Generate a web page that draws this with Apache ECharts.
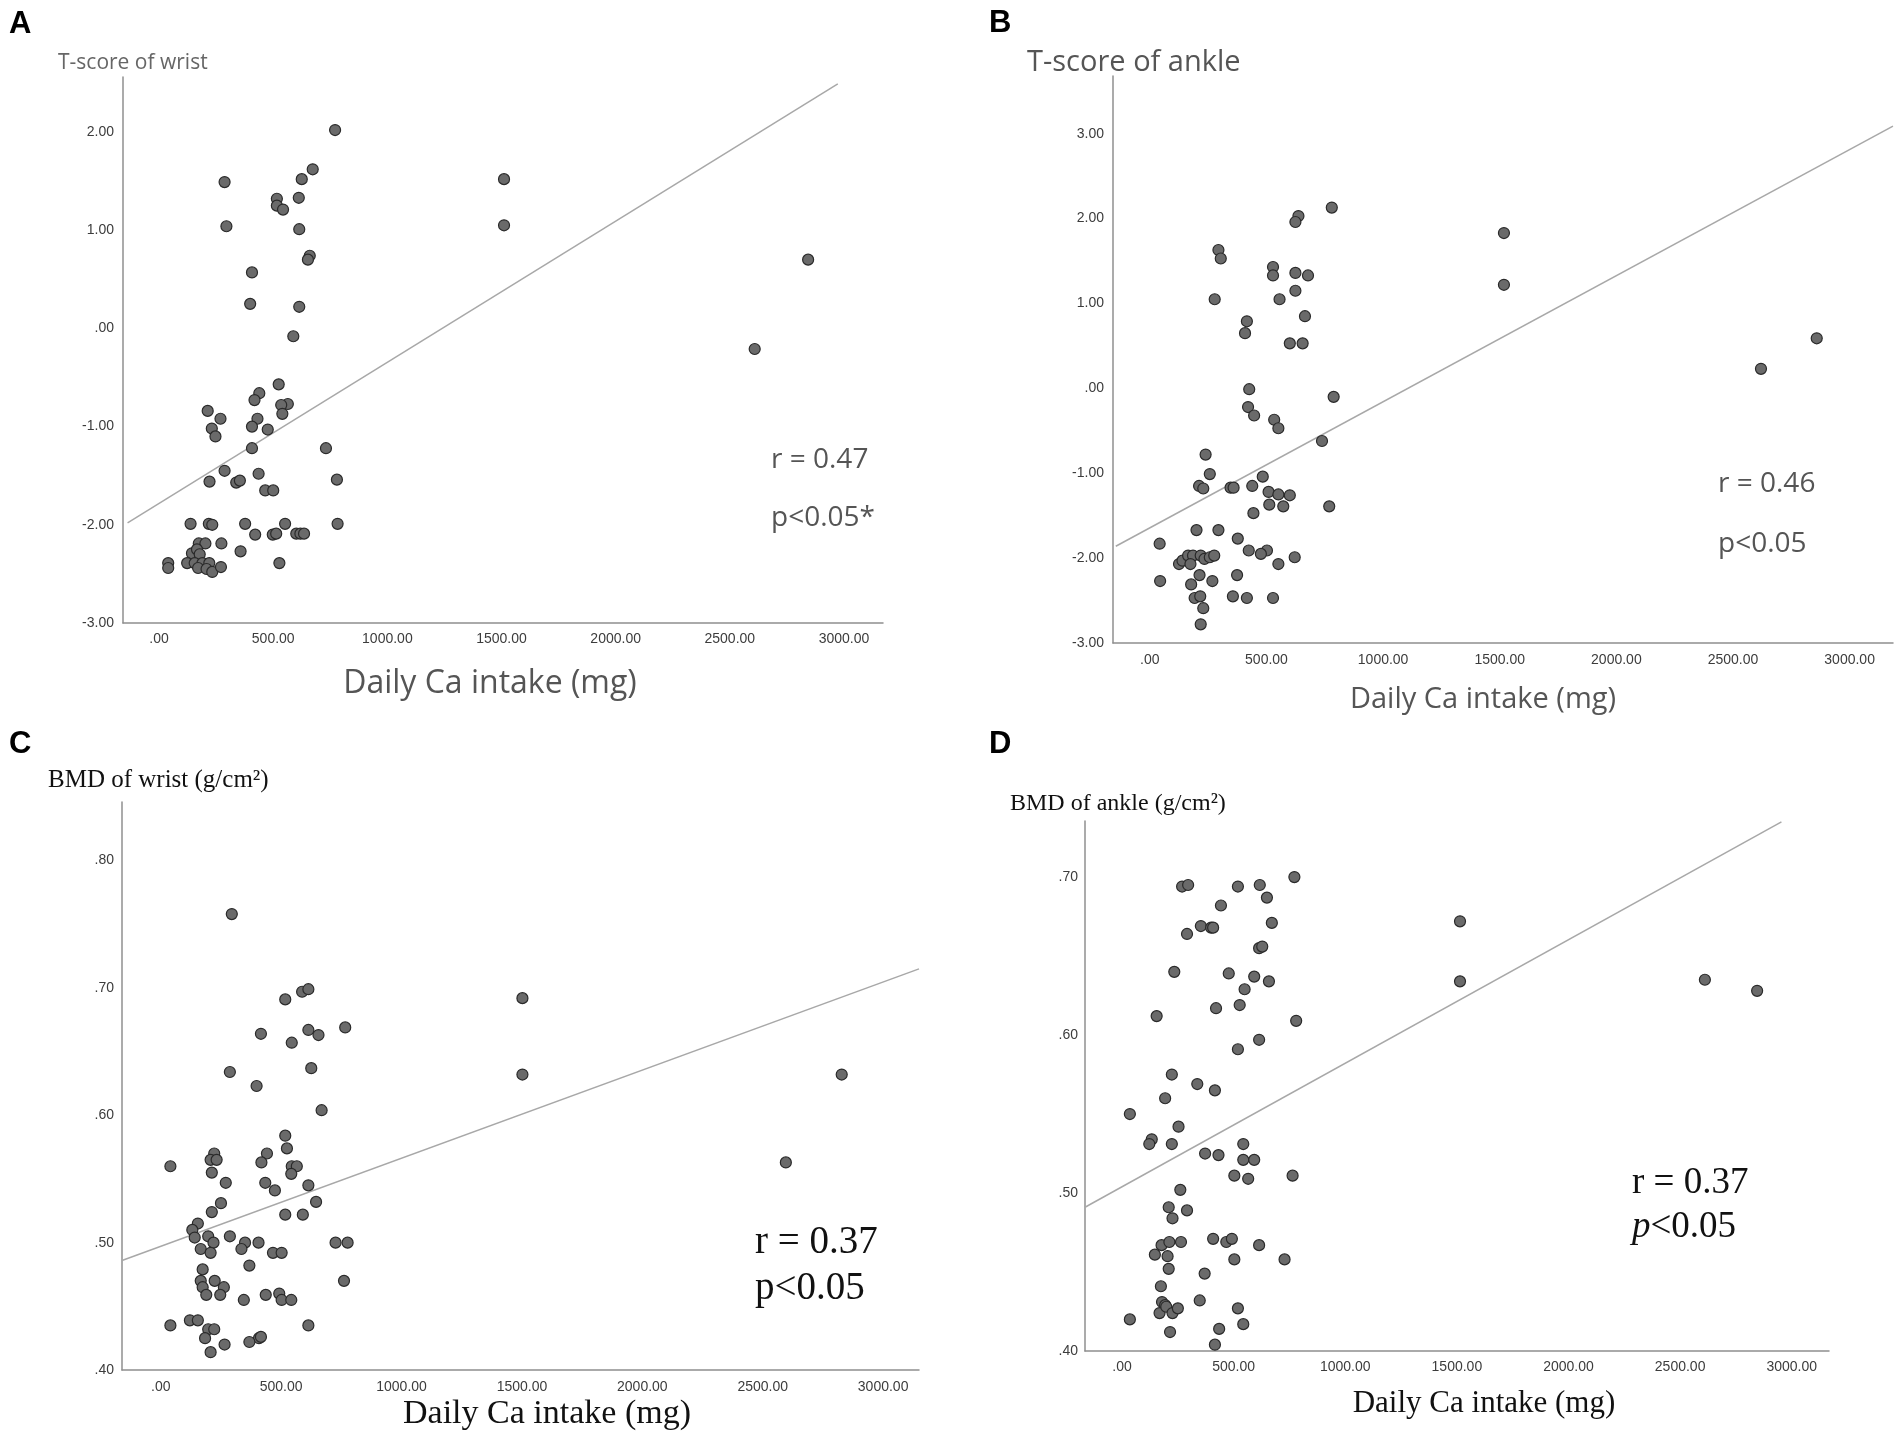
<!DOCTYPE html>
<html>
<head>
<meta charset="utf-8">
<title>Daily Ca intake vs T-score and BMD</title>
<script src="https://cdn.jsdelivr.net/npm/echarts@6/dist/echarts.min.js"></script>
<style>
  html, body { margin: 0; padding: 0; background: #fff; }
  #chart { width: 1902px; height: 1441px; }
</style>
</head>
<body>
<div id="chart"></div>
<script>
var xTicks = [0, 500, 1000, 1500, 2000, 2500, 3000];
var yTicksA = [-3, -2, -1, 0, 1, 2];
var yTicksB = [-3, -2, -1, 0, 1, 2, 3];
var yTicksC = [0.4, 0.5, 0.6, 0.7, 0.8];
var yTicksD = [0.4, 0.5, 0.6, 0.7];

// [daily Ca intake (mg), value]
var wristTscore = [
  [771, 2.02], [673, 1.62], [625, 1.52], [287, 1.49], [612, 1.33], [516, 1.32], [516, 1.25], [543, 1.21],
  [295, 1.04], [614, 1.01], [660, 0.74], [652, 0.70], [407, 0.57], [399, 0.25], [614, 0.22], [588, -0.08],
  [1511, 1.52], [1511, 1.05], [2843, 0.70], [2609, -0.21],
  [524, -0.57], [439, -0.66], [418, -0.73], [564, -0.77], [535, -0.78], [540, -0.87], [213, -0.84], [269, -0.92],
  [431, -0.92], [231, -1.02], [407, -1.00], [476, -1.03], [247, -1.10], [731, -1.22], [407, -1.22], [287, -1.45],
  [436, -1.48], [221, -1.56], [338, -1.57], [354, -1.55], [779, -1.54], [465, -1.65], [500, -1.65],
  [138, -1.99], [218, -1.99], [233, -2.00], [377, -1.99], [552, -1.99], [782, -1.99], [421, -2.10], [498, -2.10],
  [513, -2.09], [601, -2.09], [619, -2.09], [635, -2.09], [174, -2.19], [203, -2.19], [273, -2.19], [357, -2.27],
  [527, -2.39], [40, -2.39], [40, -2.44], [144, -2.29], [166, -2.25], [178, -2.30], [123, -2.39], [156, -2.39],
  [190, -2.39], [220, -2.39], [171, -2.44], [208, -2.45], [233, -2.48], [271, -2.43]
];
var ankleTscore = [
  [780, 2.13], [637, 2.03], [624, 1.96], [1518, 1.83], [1518, 1.22], [294, 1.63], [304, 1.53], [528, 1.43],
  [528, 1.33], [624, 1.36], [678, 1.33], [624, 1.15], [556, 1.05], [278, 1.05], [665, 0.85], [416, 0.79],
  [408, 0.65], [600, 0.53], [655, 0.53], [2859, 0.59], [2620, 0.23], [426, -0.01], [788, -0.10], [421, -0.22],
  [447, -0.32], [533, -0.37], [551, -0.47], [738, -0.62], [239, -0.78], [257, -1.01], [484, -1.04], [211, -1.15],
  [229, -1.18], [346, -1.17], [359, -1.17], [439, -1.15], [509, -1.22], [551, -1.25], [600, -1.26], [512, -1.37],
  [572, -1.39], [769, -1.39], [444, -1.47], [200, -1.67], [294, -1.67], [42, -1.83], [377, -1.77], [424, -1.91],
  [502, -1.91], [476, -1.95], [621, -1.99], [551, -2.07], [125, -2.07], [140, -2.03], [164, -1.97], [185, -1.97],
  [218, -1.97], [234, -2.01], [257, -1.99], [276, -1.97], [174, -2.07], [213, -2.20], [374, -2.20], [268, -2.27],
  [44, -2.27], [177, -2.31], [192, -2.47], [216, -2.45], [356, -2.45], [416, -2.47], [528, -2.47], [229, -2.59],
  [218, -2.78]
];
var wristBmd = [
  [295, 0.758], [517, 0.691], [587, 0.697], [613, 0.699], [1502, 0.692], [1502, 0.632], [2828, 0.632], [2596, 0.563],
  [766, 0.669], [416, 0.664], [613, 0.667], [655, 0.663], [544, 0.657], [625, 0.637], [287, 0.634], [398, 0.623],
  [668, 0.604], [517, 0.584], [524, 0.574], [222, 0.570], [207, 0.565], [232, 0.565], [441, 0.570], [418, 0.563],
  [544, 0.560], [565, 0.560], [542, 0.554], [212, 0.555], [40, 0.560], [270, 0.547], [434, 0.547], [613, 0.545],
  [474, 0.541], [250, 0.531], [645, 0.532], [212, 0.524], [517, 0.522], [590, 0.522], [154, 0.515], [131, 0.510],
  [141, 0.504], [197, 0.505], [287, 0.505], [219, 0.500], [350, 0.500], [406, 0.500], [726, 0.500], [776, 0.500],
  [166, 0.495], [207, 0.492], [335, 0.495], [466, 0.492], [502, 0.492], [368, 0.482], [174, 0.479], [166, 0.470],
  [174, 0.465], [224, 0.470], [262, 0.465], [189, 0.459], [247, 0.459], [761, 0.470], [436, 0.459], [492, 0.460],
  [502, 0.455], [542, 0.455], [345, 0.455], [40, 0.435], [121, 0.439], [154, 0.439], [197, 0.432], [222, 0.432],
  [613, 0.435], [184, 0.425], [408, 0.425], [416, 0.426], [368, 0.422], [265, 0.420], [207, 0.414]
];
var ankleBmd = [
  [772, 0.700], [269, 0.694], [296, 0.695], [519, 0.694], [617, 0.695], [649, 0.687], [443, 0.682], [1514, 0.672],
  [671, 0.671], [353, 0.669], [399, 0.668], [408, 0.668], [291, 0.664], [614, 0.655], [628, 0.656], [234, 0.640],
  [478, 0.639], [592, 0.637], [658, 0.634], [549, 0.629], [1514, 0.634], [2611, 0.635], [2845, 0.628], [155, 0.612],
  [421, 0.617], [527, 0.619], [780, 0.609], [614, 0.597], [519, 0.591], [223, 0.575], [337, 0.569], [416, 0.565],
  [193, 0.560], [35, 0.550], [253, 0.542], [133, 0.534], [122, 0.531], [223, 0.531], [543, 0.531], [372, 0.525],
  [432, 0.524], [543, 0.521], [592, 0.521], [503, 0.511], [565, 0.509], [764, 0.511], [261, 0.502], [209, 0.491],
  [291, 0.489], [226, 0.484], [177, 0.467], [212, 0.469], [264, 0.469], [408, 0.471], [467, 0.469], [492, 0.471],
  [614, 0.467], [147, 0.461], [204, 0.460], [503, 0.458], [728, 0.458], [209, 0.452], [370, 0.449], [174, 0.441],
  [179, 0.431], [193, 0.429], [348, 0.432], [168, 0.424], [198, 0.428], [226, 0.424], [250, 0.427], [519, 0.427],
  [35, 0.420], [543, 0.417], [435, 0.414], [215, 0.412], [416, 0.404]
];

// fitted lines, start and end points as drawn
var fitA = [[-138, -1.98], [2973, 2.49]];
var fitB = [[-146, -1.86], [3186, 3.09]];
var fitC = [[-161, 0.486], [3149, 0.715]];
var fitD = [[-166, 0.491], [2954, 0.735]];

var sans = "'Open Sans', 'DejaVu Sans', sans-serif";
var serif = "'Liberation Serif', 'DejaVu Serif', serif";
var tickFont = "'Liberation Sans', Arial, sans-serif";

var chart = echarts.init(document.getElementById('chart'));

function spssFormat (v) {
  return v.toFixed(2).replace(/^(-?)0\./, '$1.');
}

function makeX (idx, min, max, margin) {
  return {
    type: 'value',
    gridIndex: idx,
    min: min,
    max: max,
    axisLine: { show: true, onZero: false, lineStyle: { color: '#8f8f8f', width: 1.5 } },
    axisTick: { show: false },
    splitLine: { show: false },
    axisLabel: {
      customValues: xTicks,
      formatter: spssFormat,
      fontFamily: tickFont,
      fontSize: 14,
      color: '#3c3c3c',
      margin: margin
    }
  };
}

function makeY (idx, min, max, ticks, margin) {
  return {
    type: 'value',
    gridIndex: idx,
    min: min,
    max: max,
    axisLine: { show: true, onZero: false, lineStyle: { color: '#8f8f8f', width: 1.5 } },
    axisTick: { show: false },
    splitLine: { show: false },
    axisLabel: {
      customValues: ticks,
      formatter: spssFormat,
      fontFamily: tickFont,
      fontSize: 14,
      color: '#3c3c3c',
      margin: margin
    }
  };
}

function scatter (idx, data) {
  return {
    type: 'scatter',
    xAxisIndex: idx,
    yAxisIndex: idx,
    data: data,
    symbolSize: 11,
    itemStyle: { color: '#6a6a6a', borderColor: '#2a2a2a', borderWidth: 1.2, opacity: 1 },
    silent: true,
    z: 3
  };
}

function fitLine (idx, data) {
  return {
    type: 'line',
    xAxisIndex: idx,
    yAxisIndex: idx,
    data: data,
    showSymbol: false,
    symbol: 'none',
    lineStyle: { color: '#a8a8a8', width: 1.5 },
    silent: true,
    z: 2
  };
}

function label (x, y, text, font, size, fill, align, extra) {
  var style = {
    text: text,
    fontFamily: font,
    fontSize: size,
    fill: fill,
    align: align || 'left',
    verticalAlign: 'middle'
  };
  if (extra) {
    for (var k in extra) style[k] = extra[k];
  }
  return { type: 'text', x: x, y: y, style: style, z: 10 };
}

var option = {
  backgroundColor: '#fff',
  animation: false,
  grid: [
    { left: 123, top: 77, width: 760, height: 546 },
    { left: 1113, top: 76, width: 780, height: 567 },
    { left: 122, top: 802, width: 797, height: 568 },
    { left: 1085, top: 821, width: 744, height: 530 }
  ],
  xAxis: [
    makeX(0, -158, 3171, 9),
    makeX(1, -158, 3186, 10),
    makeX(2, -161, 3149, 10),
    makeX(3, -166, 3167, 9)
  ],
  yAxis: [
    makeY(0, -3, 2.56, yTicksA, 9),
    makeY(1, -3, 3.68, yTicksB, 9),
    makeY(2, 0.4, 0.846, yTicksC, 8),
    makeY(3, 0.4, 0.7355, yTicksD, 7)
  ],
  series: [
    fitLine(0, fitA), scatter(0, wristTscore),
    fitLine(1, fitB), scatter(1, ankleTscore),
    fitLine(2, fitC), scatter(2, wristBmd),
    fitLine(3, fitD), scatter(3, ankleBmd)
  ],
  graphic: [
    label(9, 24, 'A', tickFont, 31, '#000', 'left', { fontWeight: 'bold' }),
    label(989, 23, 'B', tickFont, 31, '#000', 'left', { fontWeight: 'bold' }),
    label(9, 744, 'C', tickFont, 31, '#000', 'left', { fontWeight: 'bold' }),
    label(989, 744, 'D', tickFont, 31, '#000', 'left', { fontWeight: 'bold' }),

    label(58, 63, 'T-score of wrist', sans, 21, '#666'),
    label(490, 684, 'Daily Ca intake (mg)', sans, 32, '#555', 'center'),
    label(771, 460, 'r = 0.47', sans, 28, '#555'),
    label(771, 518, 'p<0.05*', sans, 28, '#555'),

    label(1027, 63, 'T-score of ankle', sans, 29, '#555'),
    label(1483, 700, 'Daily Ca intake (mg)', sans, 29, '#555', 'center'),
    label(1718, 484, 'r = 0.46', sans, 28, '#555'),
    label(1718, 544, 'p<0.05', sans, 28, '#555'),

    label(48, 780, 'BMD of wrist (g/cm\u00b2)', serif, 25, '#111'),
    label(547, 1414, 'Daily Ca intake (mg)', serif, 34, '#111', 'center'),
    label(755, 1243, 'r = 0.37', serif, 39, '#111'),
    label(755, 1289, 'p<0.05', serif, 39, '#111'),

    label(1010, 804, 'BMD of ankle (g/cm\u00b2)', serif, 24, '#111'),
    label(1484, 1404, 'Daily Ca intake (mg)', serif, 31, '#111', 'center'),
    label(1632, 1183, 'r = 0.37', serif, 37, '#111'),
    label(1632, 1227, '{i|p}<0.05', serif, 37, '#111', 'left', {
      rich: { i: { fontStyle: 'italic', fontFamily: serif, fontSize: 37, fill: '#111' } }
    })
  ]
};

chart.setOption(option);
</script>
</body>
</html>
